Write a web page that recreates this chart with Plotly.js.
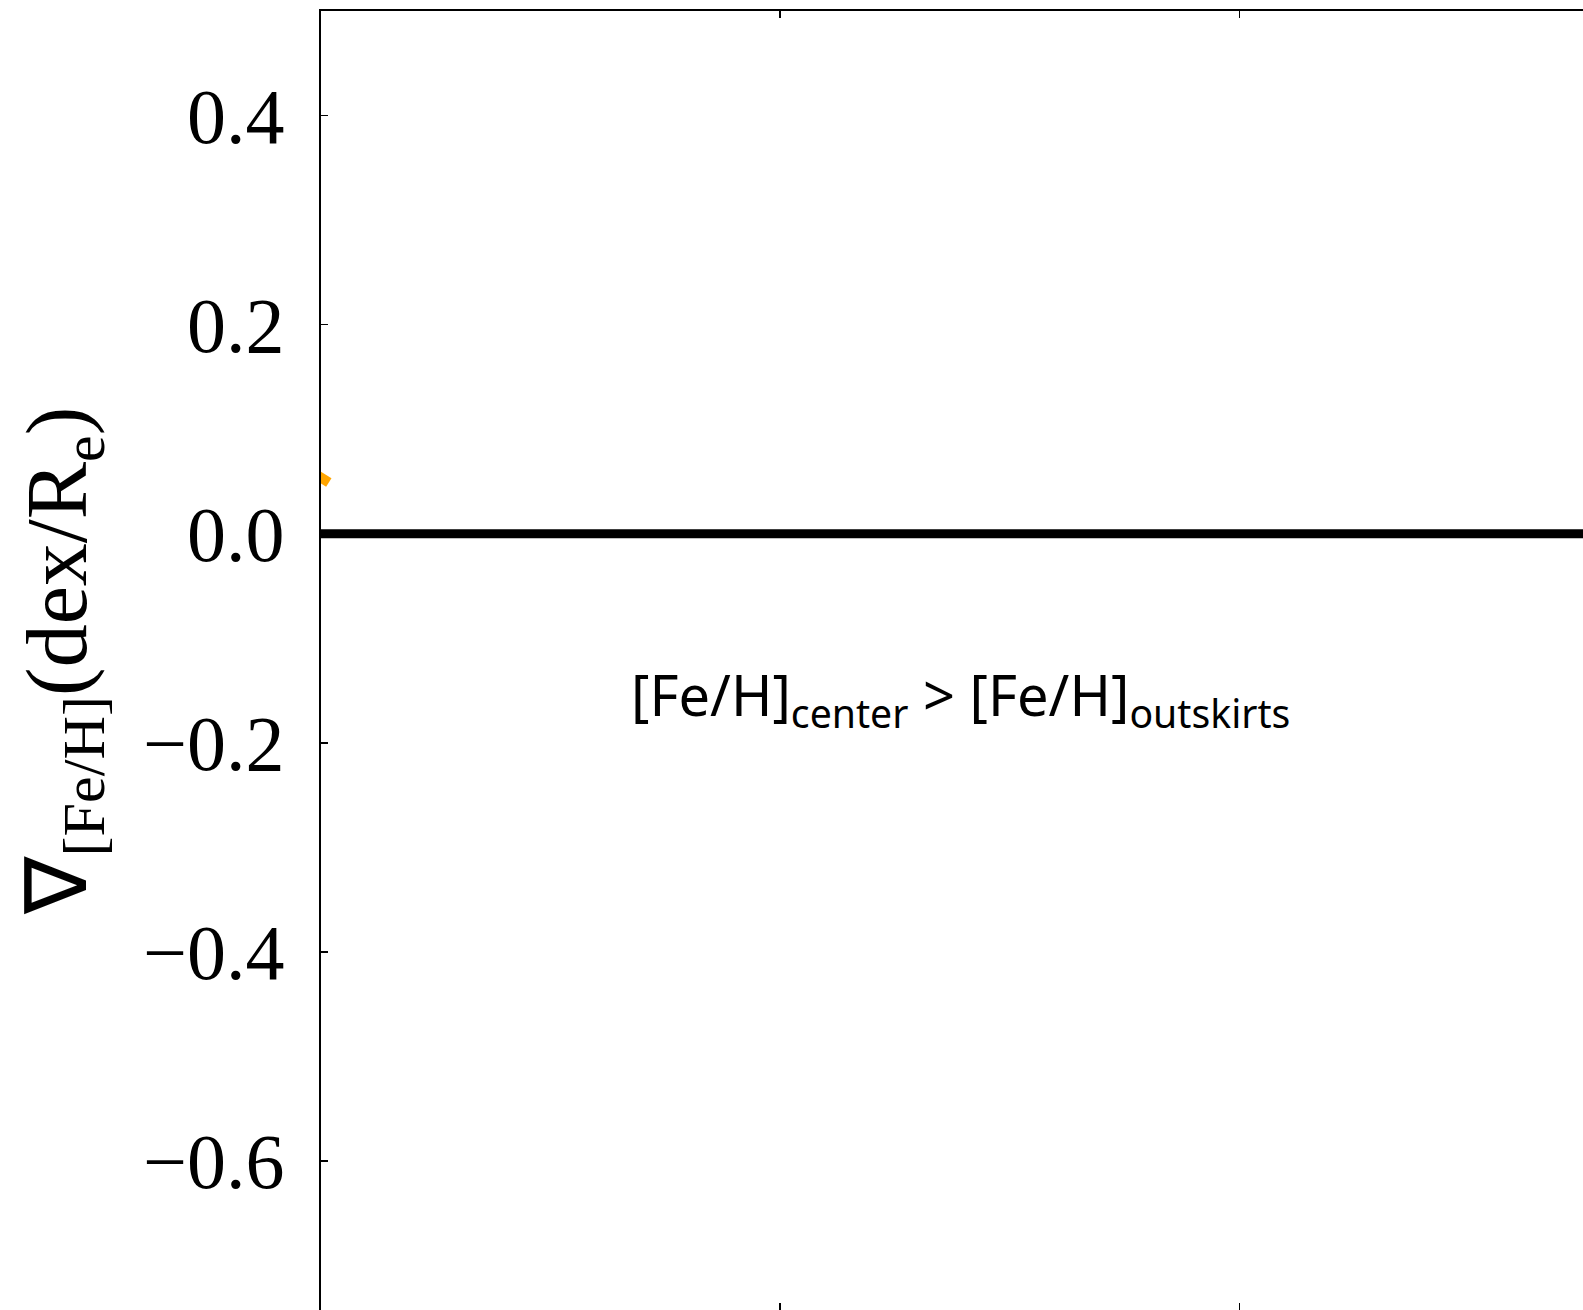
<!DOCTYPE html>
<html>
<head>
<meta charset="utf-8">
<script src="https://cdn.plot.ly/plotly-3.0.1.min.js"></script>
<style>
  html, body { margin: 0; padding: 0; overflow: hidden; background: #fff; }
  #chart { width: 1583px; height: 1310px; }
</style>
</head>
<body>
<div id="chart"></div>
<script>
// ---- data ----
const yTickVals = [-0.6, -0.4, -0.2, 0.0, 0.2, 0.4];
const yTickText = ['\u22120.6', '\u22120.4', '\u22120.2', '0.0', '0.2', '0.4'];
const xTickVals = [1, 2];
const xRange = [0, 2.748];
const yRange = [-0.7426, 0.5];
const zeroLineX = [0, 2.748];
const zeroLineY = [0, 0];
const orangeX = [-0.03, 0.017];
const orangeY = [0.062, 0.049];
const noteX = 1.393;
const noteY = -0.157;
const noteText = '[Fe/H]<sub>center</sub> > [Fe/H]<sub>outskirts</sub>';
const yTitle = '\u2207<sub>[Fe/H]</sub>(dex/R<sub>e</sub>)';

const traces = [
  {
    x: orangeX, y: orangeY, mode: 'lines', type: 'scatter',
    line: { color: '#ffa500', width: 10 }, hoverinfo: 'skip', showlegend: false
  },
  {
    x: zeroLineX, y: zeroLineY, mode: 'lines', type: 'scatter',
    line: { color: '#000000', width: 9 }, hoverinfo: 'skip', showlegend: false
  }
];

const layout = {
  width: 1583, height: 1310,
  margin: { l: 321, r: 0, t: 11, b: 0, pad: 0 },
  paper_bgcolor: '#ffffff', plot_bgcolor: '#ffffff',
  showlegend: false,
  xaxis: {
    range: xRange, showgrid: false, zeroline: false,
    showline: true, linecolor: '#000', linewidth: 2, mirror: 'ticks',
    ticks: 'inside', ticklen: 7, tickwidth: 1.5, tickcolor: '#000',
    tickvals: xTickVals, showticklabels: false
  },
  yaxis: {
    range: yRange, showgrid: false, zeroline: false,
    showline: true, linecolor: '#000', linewidth: 2, mirror: false,
    ticks: 'inside', ticklen: 7, tickwidth: 1.5, tickcolor: '#000',
    tickvals: yTickVals, ticktext: yTickText,
    tickfont: { family: 'Liberation Serif, serif', size: 78, color: '#000' },
    ticklabelstandoff: 19,
    title: {
      text: yTitle, standoff: 28,
      font: { family: 'Liberation Serif, serif', size: 86, color: '#000' }
    }
  },
  annotations: [
    {
      x: noteX, y: noteY, xref: 'x', yref: 'y',
      text: noteText, showarrow: false,
      xanchor: 'center', yanchor: 'middle',
      font: { family: 'Noto Sans, sans-serif', size: 56, color: '#000' }
    }
  ]
};

Plotly.newPlot('chart', traces, layout, { displayModeBar: false, staticPlot: true });
</script>
</body>
</html>
